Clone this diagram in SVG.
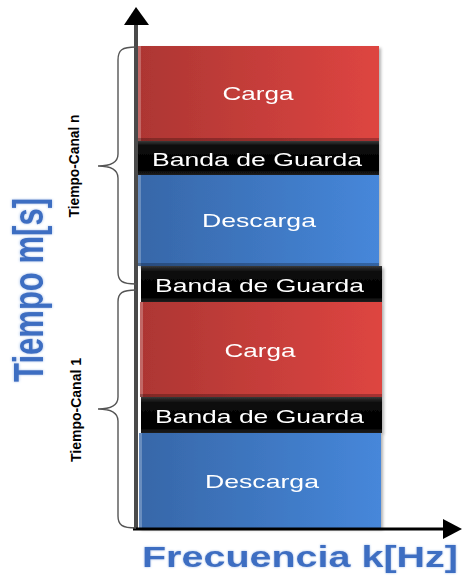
<svg xmlns="http://www.w3.org/2000/svg" width="462" height="575" viewBox="0 0 462 575">
<defs>
<linearGradient id="gRed" x1="0" y1="0" x2="1" y2="0">
<stop offset="0" stop-color="#ad3633"/><stop offset="1" stop-color="#de4541"/>
</linearGradient>
<linearGradient id="gBlue" x1="0" y1="0" x2="1" y2="0">
<stop offset="0" stop-color="#3767a8"/><stop offset="1" stop-color="#4687da"/>
</linearGradient>
<linearGradient id="gBlack" x1="0" y1="0" x2="0" y2="1">
<stop offset="0" stop-color="#3a3a3a"/><stop offset="0.15" stop-color="#0a0a0a"/><stop offset="0.85" stop-color="#000"/><stop offset="1" stop-color="#222"/>
</linearGradient>
<filter id="sh" x="-5%" y="-5%" width="115%" height="120%">
<feDropShadow dx="2" dy="2" stdDeviation="1.5" flood-color="#000" flood-opacity="0.3"/>
</filter>
<filter id="glow" x="-10%" y="-20%" width="120%" height="140%">
<feGaussianBlur in="SourceAlpha" stdDeviation="1.2" result="b"/>
<feFlood flood-color="#9fbde9"/>
<feComposite in2="b" operator="in" result="g"/>
<feMerge><feMergeNode in="g"/><feMergeNode in="SourceGraphic"/></feMerge>
</filter>
</defs>
<style>
.blk{filter:url(#sh)}
.red{fill:url(#gRed)}
.blue{fill:url(#gBlue)}
.band{fill:url(#gBlack)}
.edgeL{fill:#ffffff;fill-opacity:0.25}
.edgeB{fill:#000;fill-opacity:0.25}
.lbl{font-family:"Liberation Sans",Arial,sans-serif;font-size:19px;fill:#ffffff;text-anchor:middle}
.side{font-family:"Liberation Sans",Arial,sans-serif;font-size:11px;font-weight:bold;fill:#000;text-anchor:middle}
.axtitle{font-family:"Liberation Sans",Arial,sans-serif;font-weight:bold;fill:#3d6ec2;text-anchor:middle;filter:url(#glow)}
.brace{fill:none;stroke:#555;stroke-width:1.4}
.axis{stroke-linecap:butt}
</style>

<g id="carga-n" class="blk">
<rect x="138" y="46" width="241" height="95" class="red"/>
<rect x="138" y="46" width="3" height="95" class="edgeL"/>
<rect x="138" y="138" width="241" height="3" class="edgeB"/>
<text x="258" y="100" class="lbl" textLength="71" lengthAdjust="spacingAndGlyphs">Carga</text>
</g>
<g id="banda-1" class="blk">
<rect x="138" y="141" width="241" height="34" class="band"/>
<text x="257" y="166" class="lbl" textLength="210" lengthAdjust="spacingAndGlyphs">Banda de Guarda</text>
</g>
<g id="descarga-n" class="blk">
<rect x="138" y="175" width="241" height="91" class="blue"/>
<rect x="138" y="175" width="3" height="91" class="edgeL"/>
<rect x="138" y="263" width="241" height="3" class="edgeB"/>
<text x="259" y="227" class="lbl" textLength="114" lengthAdjust="spacingAndGlyphs">Descarga</text>
</g>
<g id="banda-2" class="blk">
<rect x="141" y="266" width="241" height="36" class="band"/>
<text x="259.5" y="292" class="lbl" textLength="209" lengthAdjust="spacingAndGlyphs">Banda de Guarda</text>
</g>
<g id="carga-1" class="blk">
<rect x="140" y="302" width="242" height="95" class="red"/>
<rect x="140" y="302" width="3" height="95" class="edgeL"/>
<rect x="140" y="394" width="242" height="3" class="edgeB"/>
<text x="260" y="357" class="lbl" textLength="71" lengthAdjust="spacingAndGlyphs">Carga</text>
</g>
<g id="banda-3" class="blk">
<rect x="141" y="397" width="241" height="36" class="band"/>
<text x="259.5" y="423" class="lbl" textLength="209" lengthAdjust="spacingAndGlyphs">Banda de Guarda</text>
</g>
<g id="descarga-1" class="blk">
<rect x="139" y="433" width="242" height="95" class="blue"/>
<rect x="139" y="433" width="3" height="95" class="edgeL"/>
<text x="262" y="488" class="lbl" textLength="114" lengthAdjust="spacingAndGlyphs">Descarga</text>
</g>

<g id="connectors">
<line x1="136" y1="530" x2="136" y2="22" stroke="#4a4a4a" stroke-width="4" class="axis"/>
<polygon points="136,7 149,25 124,25" fill="#000"/>
<line x1="133" y1="529" x2="446" y2="529" stroke="#000" stroke-width="3" class="axis"/>
<polygon points="462,529 443,519 443,539" fill="#000"/>
<path class="brace" d="M136,47 C122,47 118,50 118,60 L118,154 C118,162 112,166 98,166 C112,166 118,170 118,178 L118,272 C118,281 122,284 136,284"/>
<path class="brace" d="M136,290 C122,290 118,293 118,302 L118,397 C118,405 112,409 98,409 C112,409 118,413 118,421 L118,516 C118,525 122,528 136,528"/>
</g>

<g id="label-canal-n">
<text class="side" transform="translate(75,166) scale(1.3,1) rotate(-90)" y="3" textLength="103" lengthAdjust="spacingAndGlyphs">Tiempo-Canal n</text>
</g>
<g id="label-canal-1">
<text class="side" transform="translate(77,410) scale(1.3,1) rotate(-90)" y="3" textLength="104" lengthAdjust="spacingAndGlyphs">Tiempo-Canal 1</text>
</g>
<g id="title-y">
<text class="axtitle" font-size="32" transform="translate(33,290) scale(1.3,1) rotate(-90)" y="8" textLength="184" lengthAdjust="spacingAndGlyphs">Tiempo m[s]</text>
</g>
<g id="title-x">
<text class="axtitle" font-size="30" x="300" y="567" textLength="316" lengthAdjust="spacingAndGlyphs">Frecuencia k[Hz]</text>
</g>
</svg>
